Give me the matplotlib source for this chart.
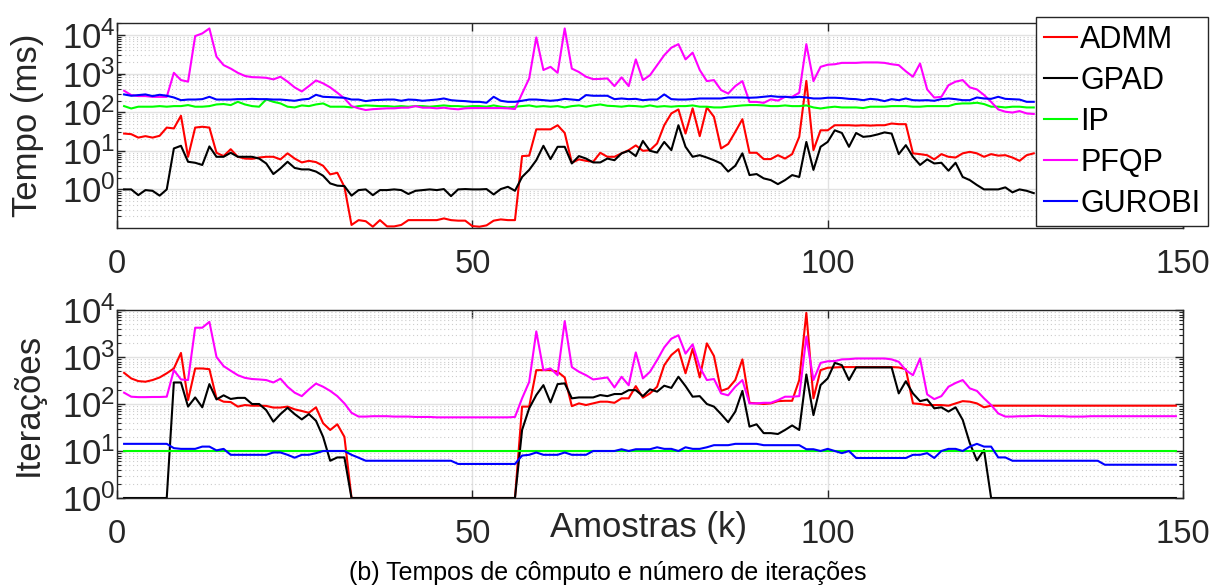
"""Tempos de computo e numero de iteracoes por amostra (ADMM, GPAD, IP, PFQP, GUROBI)."""

import numpy as np
import matplotlib

matplotlib.use("Agg")
import matplotlib.pyplot as plt  # noqa: E402
from matplotlib.ticker import LogLocator, NullFormatter  # noqa: E402

plt.rcParams["font.family"] = ["Liberation Sans", "DejaVu Sans"]
plt.rcParams["mathtext.fontset"] = "custom"
plt.rcParams["mathtext.rm"] = "Liberation Sans"

# --------------------------------------------------------------------------- #
# Data
# --------------------------------------------------------------------------- #
solvers = ["ADMM", "GPAD", "IP", "PFQP", "GUROBI"]
colors = ["#ff0000", "#000000", "#00ff00", "#ff00ff", "#0000ff"]

# top panel: computation time (ms), samples k = 1..129 (rest hidden by legend)
k_tempo = np.arange(1, 130)
tempo_admm = [
    28, 27, 22, 24, 22, 24.5, 40, 38, 81, 7, 40, 42, 40, 8.9, 7.3, 11, 7, 6.3, 6.2, 6.7,
    7, 7, 6, 8.6, 6.3, 5, 5.5, 5.1, 4.1, 2.45, 2.7, 1.17, 0.12, 0.16, 0.15, 0.108, 0.16,
    0.11, 0.11, 0.12, 0.16, 0.16,
    0.16, 0.16, 0.16, 0.177, 0.16, 0.155, 0.155, 0.112, 0.108, 0.117, 0.155, 0.167, 0.16, 0.16,
    7.3, 7.5, 36, 36, 36, 46, 29, 4.9, 6.0, 5.5, 5.2, 8.9, 7.0, 7.0, 8.6, 10.4, 13.8, 10,
    10.4, 15.5, 46, 93, 118, 28, 126, 24, 133, 76, 11.5, 15, 31, 66, 8.9, 8.9, 6.1, 6.1,
    7.7, 6.3, 8.2, 23, 650, 10.4,
    34, 34, 46, 46, 46, 45, 46, 45, 46, 46, 51, 49, 49, 8.6, 8.2, 7.7, 6, 8.2, 7, 6.7,
    8.6, 9.4, 8.6, 7, 8.2, 7.5, 7.7, 6.7, 5.5, 7.7, 8.6,
]
tempo_gpad = [
    1.0, 1.0, 0.71, 0.96, 0.92, 0.69, 1.0, 11.5, 13.5, 5.2, 4.9, 4.3, 13, 7, 7, 8.9, 7, 7,
    7, 6.3, 4.7, 2.5, 3.5, 5.2, 3.6, 3.3, 3.3, 2.9, 2.26, 1.43, 1.25, 1.22, 0.69, 0.96, 1.0,
    0.71, 0.96, 0.96, 1.0, 0.96, 0.76, 0.92,
    0.96, 1.0, 0.96, 1.02, 0.67, 1.0, 1.02, 1.0, 1.0, 1.02, 0.74, 1.02, 1.17, 0.92, 2.1,
    3.2, 5.7, 13.5, 6.1, 12.7, 12.7, 4.7, 7.3, 6.3, 5.0, 5.0, 6.3, 5.7, 8.6, 10, 7.3, 18,
    10, 9, 17, 10.4, 46, 12.7, 7, 7.7, 6.7, 5.7, 4.7, 2.9, 4.1, 8.6, 2.35, 2.5, 1.93, 1.74,
    1.37, 1.74, 2.35, 2.1, 17, 3.2,
    12.7, 17, 34, 29, 12.7, 29, 23, 24, 26.5, 30, 28, 8.2, 14, 7, 4.3, 6, 4.7, 4.9, 3.05,
    4.9, 2.1, 1.74, 1.3, 1.0, 1.0, 1.0, 1.13, 0.84, 1.0, 0.92, 0.8,
]
tempo_ip = [
    144, 125, 139, 139, 139, 144, 139, 144, 144, 153, 139, 139, 144, 159, 163, 153, 186,
    159, 144, 139, 215, 186, 169, 139, 133, 150, 144, 159, 169, 139, 139, 139, 133, 144,
    150, 147, 144, 144, 139, 144, 139, 144,
    144, 139, 144, 150, 144, 144, 139, 144, 144, 139, 150, 139, 133, 139, 144, 150, 139,
    144, 139, 144, 133, 144, 150, 139, 150, 159, 147, 144, 139, 147, 144, 139, 150, 139,
    144, 139, 144, 144, 150, 139, 139, 133, 133, 139, 144, 150, 153, 153, 150, 144, 144,
    150, 144, 144, 150, 133,
    125, 133, 139, 133, 133, 133, 128, 139, 139, 139, 144, 144, 144, 139, 139, 144, 144,
    144, 144, 163, 169, 169, 176, 163, 139, 139, 133, 139, 139, 133, 133,
]
tempo_pfqp = [
    360, 278, 262, 262, 250, 250, 250, 1050, 680, 620, 9400, 11000, 14800, 2750, 1660, 1350,
    1050, 870, 810, 800, 780, 710, 830, 620, 440, 345, 475, 665, 560, 440, 320, 228, 144,
    126, 114, 120, 123, 126, 126, 131, 131, 144,
    131, 131, 126, 131, 123, 119, 126, 128, 128, 128, 128, 128, 126, 121,
    305, 750, 8700, 1240, 1500, 1050, 14800, 1350, 1100, 830, 720, 730, 750, 475, 800, 475,
    2340, 680, 910, 1660, 3000, 4700, 5800, 2340, 3500, 1240, 640, 680, 375, 305, 475, 640,
    185, 185, 175, 215, 200, 250, 250, 320, 5800, 640,
    1500, 1700, 1750, 1900, 1900, 1900, 1950, 1950, 1950, 1900, 1750, 1660, 1150, 830, 1830,
    390, 240, 250, 500, 620, 680, 440, 390, 280, 185, 118, 103, 98, 107, 93, 90,
]
tempo_gurobi = [
    289, 267, 278, 289, 262, 283, 267, 241, 205, 213, 213, 218, 251, 213, 213, 213, 218,
    218, 222, 218, 218, 213, 213, 205, 198, 213, 222, 283, 251, 246, 241, 237, 213, 213,
    194, 205, 209, 213, 213, 198, 213, 209,
    198, 205, 213, 227, 205, 198, 194, 186, 186, 176, 251, 198, 186, 186, 198, 213, 213,
    205, 198, 205, 222, 213, 205, 278, 267, 267, 267, 218, 227, 218, 222, 205, 213, 213,
    289, 218, 213, 213, 218, 227, 227, 227, 227, 241, 241, 241, 237, 241, 251, 262, 251,
    251, 241, 251, 241, 227,
    227, 237, 237, 232, 222, 218, 205, 222, 213, 194, 218, 205, 227, 205, 202, 205, 198,
    218, 227, 218, 205, 205, 241, 227, 222, 251, 222, 218, 213, 186, 186,
]

# bottom panel: number of iterations, samples k = 1..149
k_iter = np.arange(1, 150)
iter_admm = (
    [460, 350, 307, 298, 323, 367, 450, 570, 1220, 121, 570, 570, 550, 132, 112, 110, 88,
     95, 92, 92, 91, 84, 84, 88, 77, 71, 65, 85, 39, 28, 37, 20]
    + [1] * 24
    + [88, 88, 525, 525, 525, 485, 367, 90, 103, 95, 103, 112, 112, 106, 132, 132, 240,
       136, 168, 233, 670, 1100, 1470, 450, 1500, 367, 1950, 1050, 190, 215, 323, 890, 106,
       103, 100, 103, 115, 117, 117, 323, 8700, 132]
    + [525, 590, 600, 610, 610, 610, 610, 610, 610, 610, 610, 600, 550, 103, 100, 95, 95,
       95, 92, 103, 115, 112, 103, 85, 92]
    + [92] * 26
)
iter_gpad = (
    [1] * 7
    + [287, 287, 88, 138, 85, 265, 125, 153, 128, 135, 135, 100, 100, 74, 42, 61, 83, 61,
       47, 61, 44, 20, 6.2, 7.3, 7.3]
    + [1] * 24
    + [28, 81, 155, 252, 108, 265, 275, 132, 138, 138, 138, 155, 147, 163, 163, 197, 197,
       147, 205, 183, 245, 220, 380, 240, 143, 147, 100, 88, 61, 41, 69, 190, 33, 37, 24,
       24, 23, 28, 35, 28, 425, 58]
    + [252, 350, 750, 670, 323, 600, 600, 600, 600, 600, 600, 168, 305, 168, 115, 125, 81,
       85, 69, 85, 46, 14.7, 6.3, 10.6]
    + [1] * 27
)
iter_ip = [10] * 149
iter_pfqp = (
    [174, 143, 140, 140, 141, 141, 143, 525, 333, 323, 4200, 4200, 5600, 1000, 640, 510,
     410, 360, 340, 333, 323, 287, 345, 233, 174, 147, 204, 272, 233, 190, 147, 103]
    + [65, 54, 54, 55, 55, 55, 54, 54, 54, 53, 53, 53, 52, 52, 52, 52, 52, 52, 52, 52, 52,
       52, 52, 53]
    + [132, 295, 3500, 525, 570, 410, 5800, 610, 485, 410, 333, 350, 367, 225, 380, 250,
       1250, 350, 485, 860, 1600, 2450, 2900, 1180, 1860, 610, 323, 340, 168, 153, 233, 323,
       103, 103, 106, 106, 121, 143, 143, 147, 2700, 323]
    + [750, 810, 820, 890, 900, 930, 930, 930, 930, 930, 890, 790, 525, 410, 930, 160, 127,
       147, 233, 280, 323, 215, 190, 132, 95, 63, 54]
    + [54, 55, 55, 56, 56, 55, 55, 55, 54, 54, 54, 55, 55, 55, 55, 55, 55, 55, 55, 55, 55,
       55, 55, 55]
)
iter_gurobi = (
    [14.2] * 7
    + [11.5, 11.1, 11.1, 11.1, 12.4, 12.4, 10.3, 11.1, 8.3, 8.3, 8.3, 8.3, 8.3, 8.3, 9.3,
       9.3, 8.3, 7.2, 8.3, 8.3, 9.0, 10, 10, 10, 10]
    + [8.3, 7.2] + [6.2] * 13 + [5.3] * 9
    + [8, 8.3, 9.3, 8.3, 8.3, 8.3, 9.3, 8.3, 8.3, 8.3, 10, 10, 10, 10, 10.9, 10, 10.9, 10.9,
       10.9, 12, 11.1, 11.1, 10, 12, 11.1, 11.1, 12, 13.3, 13.3, 13.3, 14.2, 14.2, 14.2,
       14.2, 13.3, 13.3, 13.3, 13.3, 13.3, 13.3, 10.9, 10.9]
    + [10, 11.1, 10, 9, 10] + [7.1] * 8
    + [8.3, 8.3, 9, 7.1, 10, 11.1, 11.1, 10, 12.4, 14.2, 12.4, 12.4, 7.3, 7.3]
    + [6.2] * 13 + [5.1] * 11
)

tempo_series = [tempo_admm, tempo_gpad, tempo_ip, tempo_pfqp, tempo_gurobi]
iter_series = [iter_admm, iter_gpad, iter_ip, iter_pfqp, iter_gurobi]


# --------------------------------------------------------------------------- #
# Plot
# --------------------------------------------------------------------------- #
def _style(ax, ylim, yticks):
    ax.set_yscale("log")
    ax.set_xlim(0, 150)
    ax.set_ylim(*ylim)
    ax.set_xticks([0, 50, 100, 150])
    ax.set_yticks(yticks)
    ax.yaxis.set_minor_locator(LogLocator(base=10, subs=np.arange(2, 10), numticks=30))
    ax.yaxis.set_minor_formatter(NullFormatter())
    ax.tick_params(which="both", direction="in", top=True, right=True, colors="#262626")
    ax.tick_params(which="major", length=6, width=1)
    ax.tick_params(which="minor", length=3, width=0.8)
    ax.tick_params(axis="x", pad=15, labelsize=23.5)
    ax.tick_params(axis="y", pad=1, labelsize=25)
    ax.grid(which="major", color="#e2e2e2", lw=1)
    ax.grid(which="minor", axis="y", color="#cccccc", lw=0.8, ls=(0, (1, 2.5)))
    ax.set_axisbelow(True)
    for sp in ax.spines.values():
        sp.set_color("#262626")
        sp.set_linewidth(1)


W, H = 1215, 587
fig = plt.figure(figsize=(W / 100, H / 100), dpi=100)
ax1 = fig.add_axes([117 / W, 1 - 228 / H, 1066 / W, 205 / H])
ax2 = fig.add_axes([117 / W, 1 - 498 / H, 1066 / W, 188 / H])

for name, col, y in zip(solvers, colors, tempo_series):
    ax1.plot(k_tempo, y, color=col, lw=1.5, label=name)
for name, col, y in zip(solvers, colors, iter_series):
    ax2.plot(k_iter, y, color=col, lw=1.5, label=name)

_style(ax1, (0.1, 2.05e4), [1, 10, 100, 1e3, 1e4])
_style(ax2, (1, 1e4), [1, 10, 100, 1e3, 1e4])

fig.text(28 / W, 1 - 125 / H, "Tempo (ms)", rotation=90, ha="center", va="center",
         fontsize=25, color="#262626")
fig.text(28 / W, 1 - 404 / H, "Iterações", rotation=90, ha="center", va="center",
         fontsize=25, color="#262626")
fig.text(648 / W, 1 - 527 / H, "Amostras (k)", ha="center", va="center",
         fontsize=25, color="#262626")
fig.text(608 / W, 1 - 573 / H, "(b) Tempos de cômputo e número de iterações",
         ha="center", va="center", fontsize=18, color="black")

leg = ax1.legend(loc="upper right", bbox_to_anchor=(1208 / W, 1 - 17 / H),
                 bbox_transform=fig.transFigure, borderaxespad=0, fontsize=22,
                 fancybox=False, framealpha=1, edgecolor="#262626",
                 handlelength=1.1, handletextpad=0.1, labelspacing=0.36, borderpad=0.25)
leg.get_frame().set_linewidth(1)
leg.set_zorder(10)

fig.savefig("out.png", dpi=100)
